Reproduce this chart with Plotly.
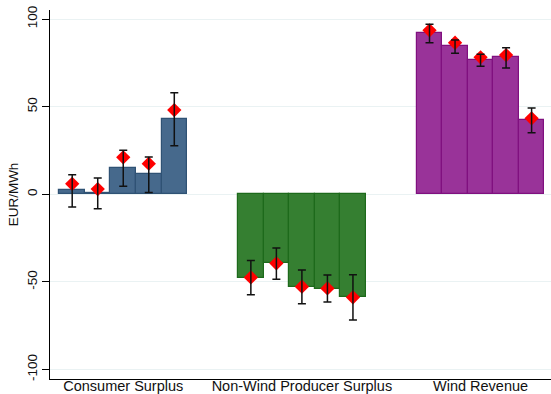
import plotly.graph_objects as go

categories = ["Consumer Surplus", "Non-Wind Producer Surplus", "Wind Revenue"]

# Bar heights (5 bars per category)
bars_consumer = [2.5, 0.6, 14.8, 11.4, 43.0]
bars_producer = [-47.6, -39.4, -52.7, -54.0, -58.4]
bars_wind = [91.9, 84.5, 76.5, 78.2, 42.2]

# Point estimates (red diamonds)
est_consumer = [6.0, 3.0, 21.1, 17.5, 48.1]
est_producer = [-47.4, -39.4, -52.7, -53.7, -58.8]
est_wind = [93.6, 86.5, 78.2, 79.5, 43.4]

# Confidence interval upper / lower bounds
hi_consumer = [11.2, 9.3, 25.1, 21.3, 58.0]
lo_consumer = [-7.2, -8.2, 4.6, 1.1, 27.7]
hi_producer = [-37.7, -30.7, -43.2, -46.1, -45.9]
lo_producer = [-57.3, -48.5, -62.4, -61.5, -71.7]
hi_wind = [97.0, 88.1, 79.9, 83.7, 49.3]
lo_wind = [86.5, 80.5, 73.1, 72.1, 35.2]

y_ticks = [-100, -50, 0, 50, 100]

groups = [
    (bars_consumer, est_consumer, hi_consumer, lo_consumer, "#46698c", "#2f5274"),
    (bars_producer, est_producer, hi_producer, lo_producer, "#357f31", "#1d6a1b"),
    (bars_wind, est_wind, hi_wind, lo_wind, "#993399", "#80107f"),
]

fig = go.Figure()
group_step = 7
centers = []
for g, (bars, est, hi, lo, fill, line) in enumerate(groups):
    xs = [g * group_step + i for i in range(len(bars))]
    centers.append(sum(xs) / len(xs))
    fig.add_trace(go.Bar(
        x=xs, y=bars, width=1.0,
        marker=dict(color=fill, line=dict(color=line, width=1.2)),
        showlegend=False,
    ))
    fig.add_trace(go.Scatter(
        x=xs, y=est, mode="markers",
        marker=dict(symbol="diamond", size=11, color="#ff0000", line=dict(width=0)),
        showlegend=False,
    ))
    fig.add_trace(go.Scatter(
        x=xs, y=est, mode="markers",
        marker=dict(size=1, color="rgba(0,0,0,0)"),
        error_y=dict(
            type="data", symmetric=False,
            array=[h - e for h, e in zip(hi, est)],
            arrayminus=[e - l for l, e in zip(lo, est)],
            color="#111111", thickness=1.5, width=4,
        ),
        showlegend=False,
    ))

fig.update_layout(
    width=551, height=394,
    margin=dict(l=50, r=0, t=10, b=15),
    paper_bgcolor="white", plot_bgcolor="white",
    font=dict(family="Liberation Sans, Arial, sans-serif", size=13, color="#111111"),
    bargap=0,
    xaxis=dict(
        range=[-0.87, 18.76],
        tickvals=centers, ticktext=categories,
        showgrid=False, zeroline=False,
        showline=True, linecolor="black", linewidth=1.2,
        ticks="", ticklen=0,
        ticklabelstandoff=-7,
        tickfont=dict(size=14.5),
        automargin=False,
    ),
    yaxis=dict(
        range=[-105.4, 105.2],
        tickvals=y_ticks,
        ticktext=[str(v) for v in y_ticks],
        tickangle=-90,
        showgrid=True, gridcolor="#eaf2f3", gridwidth=1,
        zeroline=False,
        showline=True, linecolor="black", linewidth=1.2,
        ticks="outside", ticklen=7, tickcolor="black", tickwidth=1,
        tickfont=dict(size=13.5),
        title=dict(text="EUR/MWh", font=dict(size=13.5), standoff=2),
        automargin=False,
    ),
)

fig.write_html(
    "out.html",
    config={"displayModeBar": False},
    post_script="document.body.style.margin='0';document.body.style.padding='0';",
)
